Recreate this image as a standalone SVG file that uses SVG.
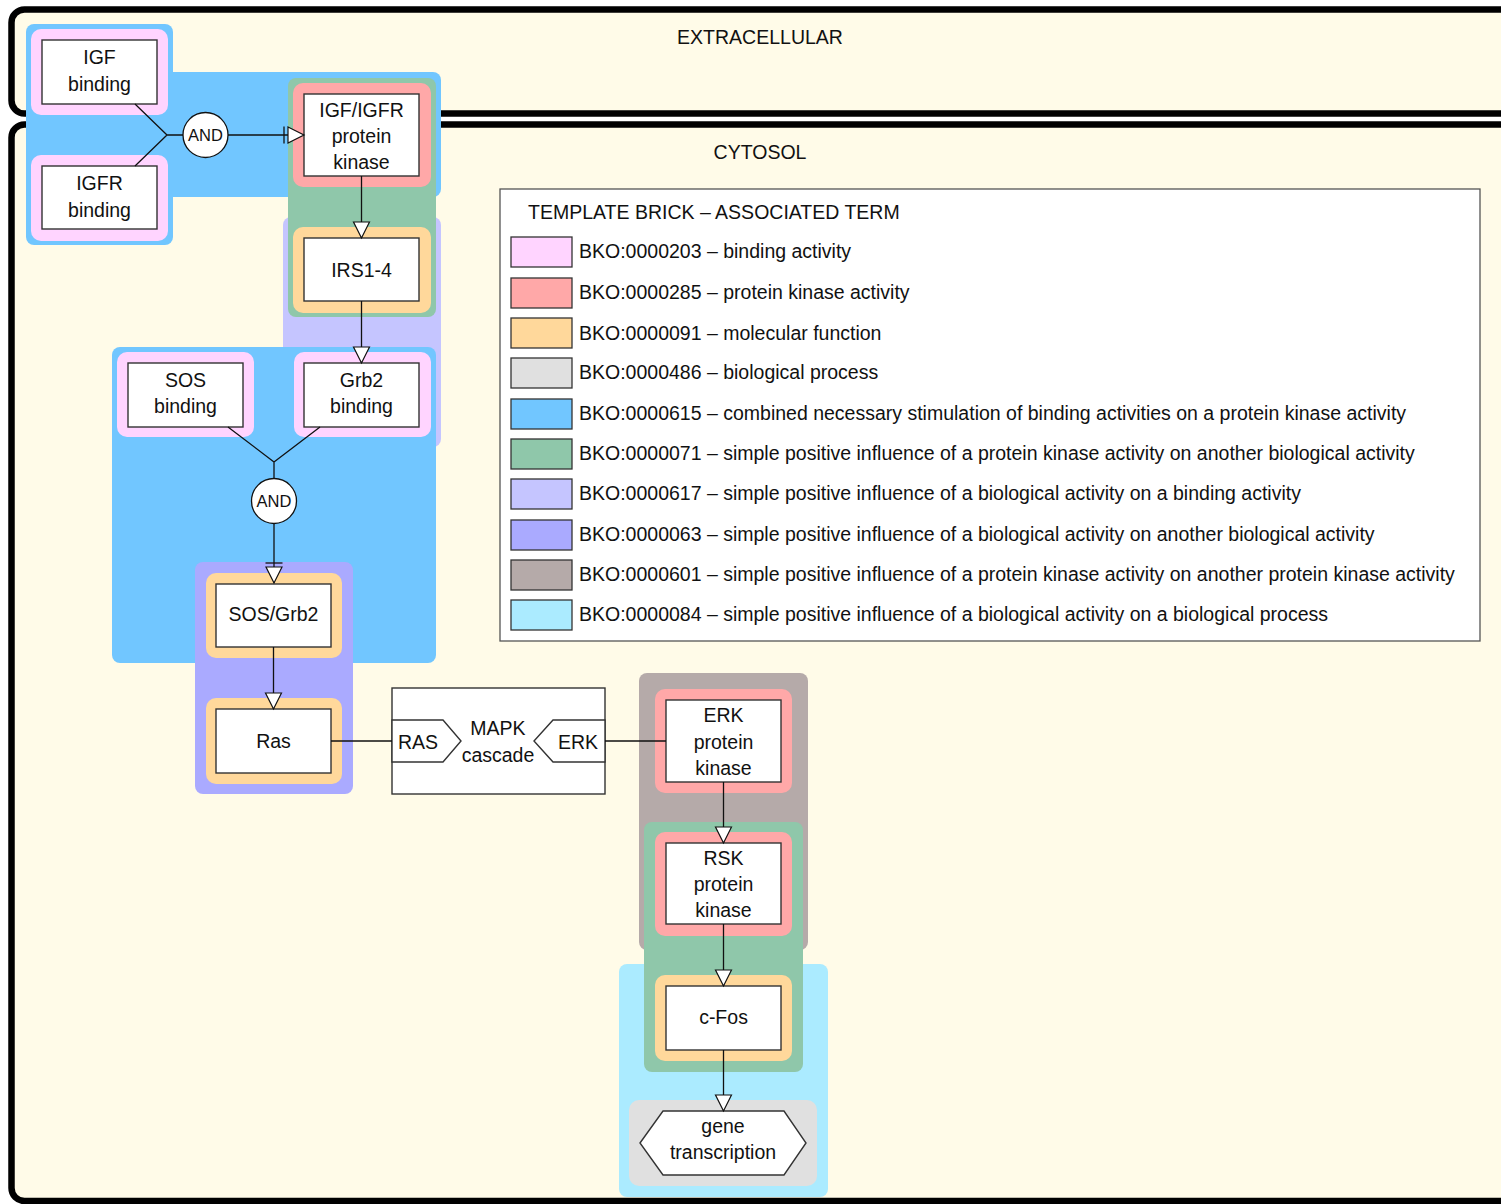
<svg xmlns="http://www.w3.org/2000/svg" width="1501" height="1204" viewBox="0 0 1501 1204">
<defs>
<style>
text{font-family:"Liberation Sans",Arial,sans-serif;font-size:19.5px;fill:#111;text-anchor:middle}
.lg{text-anchor:start}
.comp{fill:#FFFBE8;stroke:#000;stroke-width:6.5}
.box{fill:#fff;stroke:#333;stroke-width:1.4}
.ln{fill:none;stroke:#111;stroke-width:1.3}
.gate{fill:#fff;stroke:#111;stroke-width:1.3}
.pink{fill:#FFD4FF}.red{fill:#FFA8A8}.orange{fill:#FFD89B}.gray{fill:#E0E0E0}
.blue{fill:#71C6FF}.green{fill:#8FC7AA}.lav{fill:#C5C5FF}.purple{fill:#AAAAFF}.brown{fill:#B5AAA9}.cyan{fill:#ABEBFF}
.sw{stroke:#333;stroke-width:1.3}
.and{font-size:16.5px}
</style>
<marker id="arr" markerUnits="userSpaceOnUse" markerWidth="20" markerHeight="20" viewBox="-2 -2 20 20" refX="16" refY="8" orient="auto">
<path d="M0,0 L16,8 L0,16 Z" fill="#fff" stroke="#111" stroke-width="1.2"/>
</marker>
<marker id="nec" markerUnits="userSpaceOnUse" markerWidth="26" markerHeight="22" viewBox="-8 -3 26 22" refX="16" refY="8" orient="auto">
<path d="M-4,-0.5 L-4,16.5" fill="none" stroke="#111" stroke-width="1.3"/>
<path d="M0,0 L16,8 L0,16 Z" fill="#fff" stroke="#111" stroke-width="1.2"/>
</marker>
</defs>
<rect width="1501" height="1204" fill="#fff"/>
<g id="compartments">
<rect id="extracellular" class="comp" x="11.5" y="9.5" width="1530" height="104" rx="13"/>
<text x="760" y="44">EXTRACELLULAR</text>
<rect id="cytosol" class="comp" x="11.5" y="124.5" width="1530" height="1076.5" rx="13"/>
<text x="760" y="159">CYTOSOL</text>
</g>
<g id="bricks">
<rect class="lav" x="283" y="217" width="158" height="230" rx="8"/>
<rect class="blue" x="26" y="24" width="147" height="221" rx="8"/>
<rect class="blue" x="26" y="72" width="415" height="125" rx="8"/>
<rect class="green" x="288" y="78" width="148" height="239" rx="8"/>
<rect class="blue" x="112" y="347" width="324" height="316" rx="8"/>
<rect class="purple" x="195" y="562" width="158" height="232" rx="8"/>
<rect class="brown" x="639" y="673" width="169" height="277" rx="8"/>
<rect class="cyan" x="619" y="964" width="209" height="233" rx="8"/>
<rect class="green" x="644" y="822" width="159" height="250" rx="8"/>
<rect class="gray" x="629" y="1100" width="188" height="86" rx="10"/>
</g>
<g id="igf-binding">
<rect class="pink" x="31" y="29" width="137" height="86" rx="10"/>
<rect class="box" x="42" y="40" width="115" height="64"/>
<text x="99.5" y="64">IGF</text><text x="99.5" y="91">binding</text>
</g>
<g id="igfr-binding">
<rect class="pink" x="31" y="155" width="137" height="86" rx="10"/>
<rect class="box" x="42" y="166" width="115" height="63"/>
<text x="99.5" y="190">IGFR</text><text x="99.5" y="217">binding</text>
</g>
<g id="and1">
<circle class="gate" cx="205.5" cy="135" r="22.5"/>
<text class="and" x="205.5" y="141">AND</text>
</g>
<g id="igf-igfr-pk">
<rect class="red" x="293" y="83" width="138" height="104" rx="10"/>
<rect class="box" x="304" y="94" width="115" height="82"/>
<text x="361.5" y="117">IGF/IGFR</text><text x="361.5" y="143">protein</text><text x="361.5" y="169">kinase</text>
</g>
<g id="irs">
<rect class="orange" x="293" y="227" width="138" height="86" rx="10"/>
<rect class="box" x="304" y="238" width="115" height="63"/>
<text x="361.5" y="277">IRS1-4</text>
</g>
<g id="sos-binding">
<rect class="pink" x="117" y="352" width="137" height="85" rx="10"/>
<rect class="box" x="128" y="363" width="115" height="64"/>
<text x="185.5" y="387">SOS</text><text x="185.5" y="413">binding</text>
</g>
<g id="grb2-binding">
<rect class="pink" x="294" y="352" width="137" height="85" rx="10"/>
<rect class="box" x="304" y="363" width="115" height="64"/>
<text x="361.5" y="387">Grb2</text><text x="361.5" y="413">binding</text>
</g>
<g id="and2">
<circle class="gate" cx="274" cy="501" r="22.5"/>
<text class="and" x="274" y="507">AND</text>
</g>
<g id="sos-grb2">
<rect class="orange" x="206" y="573" width="136" height="85" rx="10"/>
<rect class="box" x="216" y="584" width="115" height="63"/>
<text x="273.5" y="621">SOS/Grb2</text>
</g>
<g id="ras">
<rect class="orange" x="206" y="698" width="136" height="86" rx="10"/>
<rect class="box" x="216" y="709" width="115" height="64"/>
<text x="273.5" y="748">Ras</text>
</g>
<g id="mapk-cascade">
<rect class="box" x="392" y="688" width="213" height="106"/>
<path class="box" d="M392,720 L443,720 L461,741 L443,762 L392,762 Z"/>
<path class="box" d="M605,720 L553,720 L534,741 L553,762 L605,762 Z"/>
<text x="418" y="749">RAS</text>
<text x="578" y="749">ERK</text>
<text x="498" y="735">MAPK</text>
<text x="498" y="762">cascade</text>
</g>
<g id="erk-pk">
<rect class="red" x="655" y="689" width="137" height="104" rx="10"/>
<rect class="box" x="666" y="700" width="115" height="82"/>
<text x="723.5" y="722">ERK</text><text x="723.5" y="749">protein</text><text x="723.5" y="775">kinase</text>
</g>
<g id="rsk-pk">
<rect class="red" x="655" y="832" width="137" height="104" rx="10"/>
<rect class="box" x="666" y="843" width="115" height="81"/>
<text x="723.5" y="865">RSK</text><text x="723.5" y="891">protein</text><text x="723.5" y="917">kinase</text>
</g>
<g id="c-fos">
<rect class="orange" x="655" y="975" width="137" height="86" rx="10"/>
<rect class="box" x="666" y="986" width="115" height="64"/>
<text x="723.5" y="1024">c-Fos</text>
</g>
<g id="gene-transcription">
<path class="box" d="M640,1143 L663,1111 L784,1111 L806,1143 L784,1175 L663,1175 Z"/>
<text x="723" y="1133">gene</text><text x="723" y="1159">transcription</text>
</g>
<g id="connectors">
<path class="ln" d="M135,104 L167,135 M135,166 L167,135 M167,135 L183,135"/>
<path class="ln" d="M228,135 L304,135" marker-end="url(#nec)"/>
<path class="ln" d="M361.5,176 L361.5,238" marker-end="url(#arr)"/>
<path class="ln" d="M361.5,301 L361.5,363" marker-end="url(#arr)"/>
<path class="ln" d="M228,427 L274,462 M320,427 L274,462 M274,462 L274,478"/>
<path class="ln" d="M274,524 L274,583" marker-end="url(#nec)"/>
<path class="ln" d="M273.5,647 L273.5,709" marker-end="url(#arr)"/>
<path class="ln" d="M331,741 L392,741"/>
<path class="ln" d="M605,741 L666,741"/>
<path class="ln" d="M723.5,782 L723.5,843" marker-end="url(#arr)"/>
<path class="ln" d="M723.5,924 L723.5,986" marker-end="url(#arr)"/>
<path class="ln" d="M723.5,1050 L723.5,1111" marker-end="url(#arr)"/>
</g>
<g id="legend">
<rect x="500" y="189" width="980" height="452" fill="#fff" stroke="#555" stroke-width="1.3"/>
<text class="lg" x="528" y="219">TEMPLATE BRICK – ASSOCIATED TERM</text>
<rect class="sw pink" x="511" y="237" width="61" height="30"/>
<text class="lg" x="579" y="258">BKO:0000203 – binding activity</text>
<rect class="sw red" x="511" y="278" width="61" height="30"/>
<text class="lg" x="579" y="299">BKO:0000285 – protein kinase activity</text>
<rect class="sw orange" x="511" y="318" width="61" height="30"/>
<text class="lg" x="579" y="340">BKO:0000091 – molecular function</text>
<rect class="sw gray" x="511" y="358" width="61" height="30"/>
<text class="lg" x="579" y="379">BKO:0000486 – biological process</text>
<rect class="sw blue" x="511" y="399" width="61" height="30"/>
<text class="lg" x="579" y="420">BKO:0000615 – combined necessary stimulation of binding activities on a protein kinase activity</text>
<rect class="sw green" x="511" y="439" width="61" height="30"/>
<text class="lg" x="579" y="460">BKO:0000071 – simple positive influence of a protein kinase activity on another biological activity</text>
<rect class="sw lav" x="511" y="479" width="61" height="30"/>
<text class="lg" x="579" y="500">BKO:0000617 – simple positive influence of a biological activity on a binding activity</text>
<rect class="sw purple" x="511" y="520" width="61" height="30"/>
<text class="lg" x="579" y="541">BKO:0000063 – simple positive influence of a biological activity on another biological activity</text>
<rect class="sw brown" x="511" y="560" width="61" height="30"/>
<text class="lg" x="579" y="581">BKO:0000601 – simple positive influence of a protein kinase activity on another protein kinase activity</text>
<rect class="sw cyan" x="511" y="600" width="61" height="30"/>
<text class="lg" x="579" y="621">BKO:0000084 – simple positive influence of a biological activity on a biological process</text>
</g>
</svg>
